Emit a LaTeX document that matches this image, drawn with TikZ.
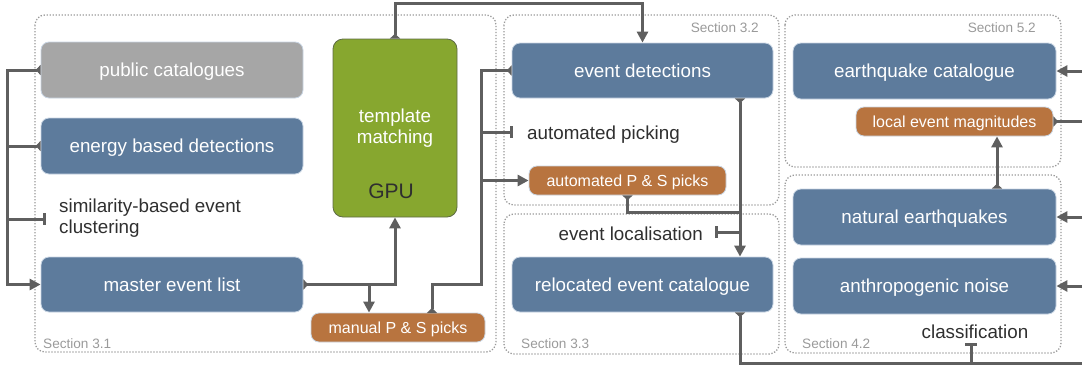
\documentclass[tikz,border=0pt]{standalone}
\usepackage{fontspec}
\setmainfont{Liberation Sans}
\usetikzlibrary{arrows.meta}
\definecolor{boxblue}{HTML}{5D7B9C}
\definecolor{boxgray}{HTML}{A6A6A6}
\definecolor{boxorange}{HTML}{B8743F}
\definecolor{boxgreen}{HTML}{87A72F}
\definecolor{greenedge}{HTML}{5E6B45}
\definecolor{edgeblue}{HTML}{C9D5E3}
\definecolor{linegray}{HTML}{5F5F5F}
\definecolor{sectgray}{HTML}{9A9A9A}
\definecolor{labelgray}{HTML}{9A9A9A}
\definecolor{darktext}{HTML}{2F2F2F}
\tikzset{
  box/.style={draw=edgeblue, line width=0.8pt, rounded corners=8pt, text=white, inner sep=0pt,
    font=\fontsize{18.8}{22}\selectfont, text height=15pt, text depth=2pt},
  bluebox/.style={box, fill=boxblue, minimum width=262pt, minimum height=56pt},
  graybox/.style={box, fill=boxgray, minimum width=262pt, minimum height=56pt},
  orangebox/.style={box, fill=boxorange, minimum width=197pt, minimum height=29pt,
    font=\fontsize{16}{19}\selectfont, text height=13pt, text depth=1pt},
  greenbox/.style={draw=greenedge, line width=0.8pt, fill=boxgreen, rounded corners=10pt,
    text=white, align=center, inner sep=0pt, font=\fontsize{18.8}{20.5}\selectfont},
  sect/.style={draw=sectgray, line width=1.3pt, dash pattern=on 1.3pt off 1.7pt, rounded corners=10pt},
  seclabel/.style={text=labelgray, inner sep=0pt, font=\fontsize{13.6}{16}\selectfont},
  plain/.style={text=darktext, inner sep=0pt, font=\fontsize{18.8}{21}\selectfont},
  conn/.style={draw=linegray, line width=3pt},
  sm/.tip={Triangle[reversed, length=5pt, width=10pt]},
  ar/.tip={Triangle[length=11pt, width=11pt]},
  te/.tip={Bar[width=12pt]},
}
\begin{document}
\begin{tikzpicture}[x=1pt,y=-1pt]
\useasboundingbox (0,0) rectangle (1082,367);
% sections
\draw[sect] (35,15) rectangle (496,352);
\draw[sect] (504,15) rectangle (779,205);
\draw[sect] (504,214) rectangle (779,354);
\draw[sect] (785,15) rectangle (1061,167);
\draw[sect] (785,175) rectangle (1061,353);
\node[seclabel, anchor=west] (l31) at (43,344) {Section 3.1};
\node[seclabel, anchor=east] (l32) at (759,28) {Section 3.2};
\node[seclabel, anchor=west] (l33) at (521,344) {Section 3.3};
\node[seclabel, anchor=east] (l52) at (1036,28) {Section 5.2};
\node[seclabel, anchor=west] (l42) at (802,344) {Section 4.2};
% nodes
\node[graybox] (pub) at (172,70) {public catalogues};
\node[bluebox] (ebd) at (172,146) {energy based detections};
\node[bluebox, minimum height=55pt] (mel) at (172,284.5) {master event list};
\node[greenbox, minimum width=124pt, minimum height=178pt] (tm) at (395,128) {template\\matching};
\node[text=darktext, inner sep=0pt, font=\fontsize{21}{24}\selectfont] (gpu) at (391,191) {GPU};
\node[orangebox, minimum width=174pt] (man) at (398,327.5) {manual P \& S picks};
\node[bluebox, minimum width=261pt, minimum height=55pt] (ed) at (642.5,70.5) {event detections};
\node[orangebox] (aps) at (627.5,180.5) {automated P \& S picks};
\node[bluebox, minimum width=261pt, minimum height=55pt] (rec) at (642.5,284.5) {relocated event catalogue};
\node[bluebox, minimum width=263pt] (eqc) at (924.5,71) {earthquake catalogue};
\node[orangebox] (lem) at (954.5,121.5) {local event magnitudes};
\node[bluebox, minimum width=263pt] (ne) at (924.5,217) {natural earthquakes};
\node[bluebox, minimum width=263pt] (an) at (924.5,286) {anthropogenic noise};
% plain labels
\node[plain, anchor=west, align=left] (sim) at (59,218.5) {similarity-based event\\clustering};
\node[plain, anchor=west] (ap) at (527,135) {automated picking};
\node[plain, anchor=east] (el) at (703,234) {event localisation};
\node[plain] (cl) at (975,331.5) {classification};
% helper coordinates
\coordinate (L) at (7,0);
\coordinate (simT) at (46,219);
\coordinate (b1) at (369,284.5);
\coordinate (top) at (0,3);
\coordinate (m1) at (432,313);
\coordinate (jb) at (481,284);
\coordinate (V) at (481,0);
\coordinate (apT) at (513,132);
\coordinate (X) at (740,0);
\coordinate (J) at (740,212);
\coordinate (elT) at (715,232);
\coordinate (bot) at (1090,363);
\coordinate (clT) at (971,343);
\coordinate (K) at (997,0);
\coordinate (E1) at (1090,71);
\coordinate (E2) at (1090,121.5);
\coordinate (E3) at (1090,217);
\coordinate (E4) at (1090,286);
% connectors
\draw[conn, sm-ar] (pub.west) -- (pub.west -| L) -- (mel.west -| L) -- (mel.west);
\draw[conn, sm-] (ebd.west) -- (ebd.west -| L);
\draw[conn, -te] (simT -| L) -- (simT);
\draw[conn, sm-ar] (mel.east) -- (mel.east -| tm.south) -- (tm.south);
\draw[conn, -ar] (b1) -- (b1 |- man.north);
\draw[conn, sm-ar] (tm.north) -- (tm.north |- top) -- (top -| ed.north) -- (ed.north);
\draw[conn, sm-ar] (ed.west) -- (ed.west -| V) -- (aps.west -| V) -- (aps.west);
\draw[conn, sm-] (m1) -- (m1 |- jb) -- (jb) -- (jb |- aps.west);
\draw[conn, -te] (apT -| V) -- (apT);
\draw[conn, sm-ar] (ed.south -| X) -- (rec.north -| X);
\draw[conn, sm-] (aps.south) -- (aps.south |- J) -- (J);
\draw[conn, -te] (elT -| X) -- (elT);
\draw[conn, sm-] (rec.south -| X) -- (bot -| X) -- (bot);
\draw[conn, -te] (clT |- bot) -- (clT);
\draw[conn, -ar] (E1) -- (eqc.east);
\draw[conn, sm-] (lem.east) -- (E2);
\draw[conn, -ar] (E3) -- (ne.east);
\draw[conn, -ar] (E4) -- (an.east);
\draw[conn, sm-ar] (ne.north -| K) -- (lem.south -| K);
\end{tikzpicture}
\end{document}
